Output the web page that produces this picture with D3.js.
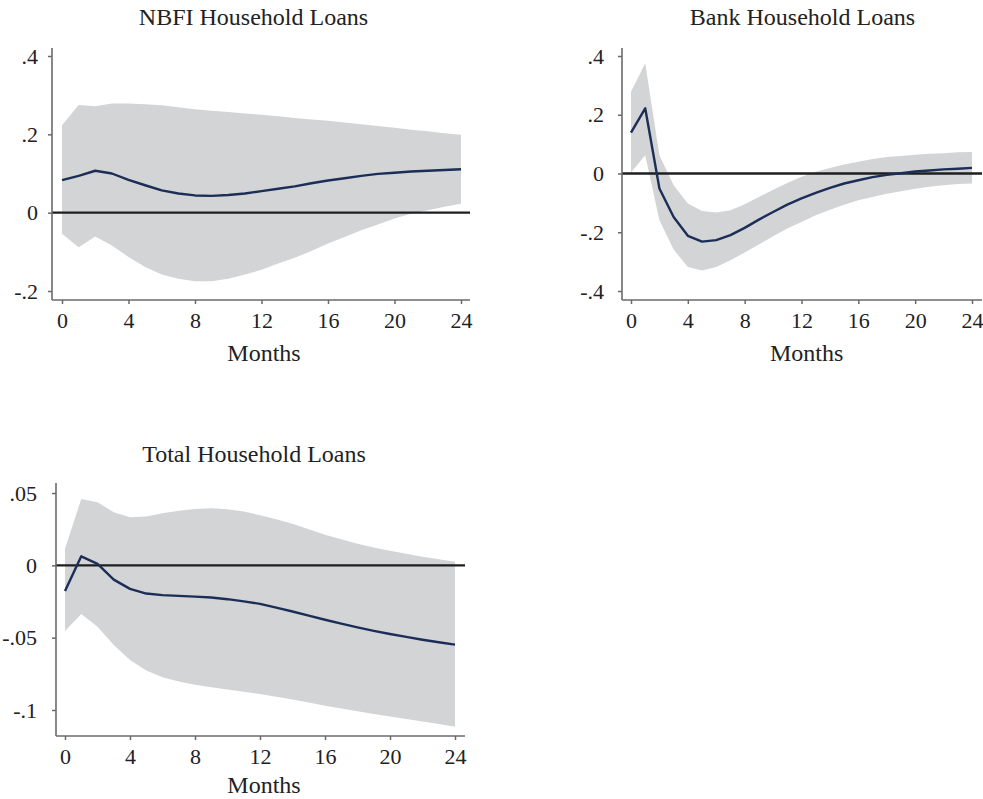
<!DOCTYPE html>
<html><head><meta charset="utf-8">
<script src="https://cdn.jsdelivr.net/npm/d3@7"></script>
<style>
html,body{margin:0;padding:0;background:#fff;}
svg{display:block;}
text{font-family:"Liberation Serif","Times New Roman",serif;fill:#222;}
</style></head>
<body>
<svg id="c" width="983" height="799"></svg>
<script>
const months = d3.range(0, 25);
const xTicks = [0, 4, 8, 12, 16, 20, 24];

// NBFI Household Loans
const nbfiIrf = [0.083,0.094,0.107,0.100,0.084,0.070,0.057,0.049,0.044,0.043,0.045,0.049,0.055,0.061,0.067,0.075,0.082,0.088,0.094,0.099,0.102,0.105,0.107,0.109,0.111];
const nbfiUpper = [0.223,0.275,0.272,0.279,0.279,0.277,0.274,0.269,0.264,0.260,0.257,0.253,0.250,0.246,0.242,0.238,0.235,0.230,0.226,0.221,0.217,0.212,0.208,0.203,0.199];
const nbfiLower = [-0.054,-0.088,-0.061,-0.084,-0.113,-0.139,-0.158,-0.169,-0.175,-0.175,-0.169,-0.158,-0.146,-0.130,-0.115,-0.098,-0.079,-0.062,-0.045,-0.030,-0.015,-0.003,0.006,0.015,0.023];
const nbfiYTicks = [-0.2, 0, 0.2, 0.4];
const nbfiYLabels = ["-.2", "0", ".2", ".4"];

// Bank Household Loans
const bankIrf = [0.139,0.222,-0.051,-0.148,-0.212,-0.232,-0.227,-0.210,-0.185,-0.157,-0.131,-0.106,-0.085,-0.066,-0.049,-0.034,-0.023,-0.0125,-0.0045,0.001,0.007,0.010,0.014,0.016,0.019];
const bankUpper = [0.278,0.375,0.0625,-0.040,-0.102,-0.128,-0.133,-0.125,-0.105,-0.080,-0.055,-0.032,-0.011,0.006,0.019,0.031,0.040,0.049,0.056,0.060,0.064,0.067,0.069,0.072,0.073];
const bankLower = [0.003,0.0625,-0.159,-0.259,-0.318,-0.330,-0.318,-0.295,-0.269,-0.242,-0.214,-0.187,-0.165,-0.142,-0.123,-0.106,-0.091,-0.080,-0.069,-0.060,-0.052,-0.045,-0.040,-0.036,-0.034];
const bankYTicks = [-0.4, -0.2, 0, 0.2, 0.4];
const bankYLabels = ["-.4", "-.2", "0", ".2", ".4"];

// Total Household Loans
const totalIrf = [-0.0177,0.0062,0.0010,-0.0099,-0.0163,-0.0195,-0.0206,-0.0211,-0.0216,-0.0222,-0.0234,-0.0249,-0.0266,-0.0292,-0.0319,-0.0348,-0.0376,-0.0403,-0.0429,-0.0453,-0.0475,-0.0495,-0.0514,-0.0532,-0.0548];
const totalUpper = [0.0115,0.0459,0.0436,0.0367,0.0333,0.0337,0.0360,0.0378,0.0390,0.0394,0.0388,0.0372,0.0346,0.0318,0.0287,0.0250,0.0212,0.0180,0.0150,0.0124,0.0101,0.0080,0.0060,0.0042,0.0025];
const totalLower = [-0.0454,-0.0337,-0.0424,-0.0550,-0.0654,-0.0727,-0.0773,-0.0803,-0.0826,-0.0842,-0.0858,-0.0874,-0.0890,-0.0908,-0.0928,-0.0949,-0.0970,-0.0989,-0.1008,-0.1027,-0.1045,-0.1063,-0.1080,-0.1097,-0.1115];
const totalYTicks = [-0.1, -0.05, 0, 0.05];
const totalYLabels = ["-.1", "-.05", "0", ".05"];

const titles = ["NBFI Household Loans", "Bank Household Loans", "Total Household Loans"];
const xLabel = "Months";

const panels = [
  {title: titles[0], irf: nbfiIrf, up: nbfiUpper, lo: nbfiLower, yt: nbfiYTicks, yl: nbfiYLabels,
   ax: 52, top: 48, bottom: 300, right: 470, x0: 62, x1: 461, yv: [-0.2, 0.4], yp: [291, 56],
   titleX: 253.5, titleY: 25, labX: 264, labY: 361, ylabPad: 10},
  {title: titles[1], irf: bankIrf, up: bankUpper, lo: bankLower, yt: bankYTicks, yl: bankYLabels,
   ax: 622, top: 48, bottom: 300, right: 982, x0: 631, x1: 972, yv: [-0.4, 0.4], yp: [291, 56],
   titleX: 802.5, titleY: 25, labX: 806.7, labY: 361, ylabPad: 14},
  {title: titles[2], irf: totalIrf, up: totalUpper, lo: totalLower, yt: totalYTicks, yl: totalYLabels,
   ax: 56, top: 483, bottom: 736, right: 465, x0: 65, x1: 455, yv: [-0.1, 0.05], yp: [710, 493],
   titleX: 254, titleY: 462, labX: 264, labY: 793, ylabPad: 15}
];

const svg = d3.select("#c");
const bandColor = "#d3d4d6";
const lineColor = "#1b2e57";
const axisColor = "#6a6a6a";

panels.forEach(p => {
  const g = svg.append("g");
  const x = d3.scaleLinear().domain([0, 24]).range([p.x0, p.x1]);
  const y = d3.scaleLinear().domain(p.yv).range(p.yp);

  const area = d3.area().x((d, i) => x(months[i])).y0((d, i) => y(p.lo[i])).y1((d, i) => y(p.up[i]));
  g.append("path").datum(months).attr("d", area).attr("fill", bandColor);

  // zero line
  g.append("line").attr("x1", p.ax).attr("x2", p.right).attr("y1", y(0)).attr("y2", y(0))
    .attr("stroke", "#1e1e1e").attr("stroke-width", 2.4);

  const line = d3.line().x((d, i) => x(months[i])).y((d, i) => y(p.irf[i]));
  g.append("path").datum(months).attr("d", line).attr("fill", "none")
    .attr("stroke", lineColor).attr("stroke-width", 2.4).attr("stroke-linejoin", "round");

  // y axis
  const yAxis = d3.axisLeft(y).tickValues(p.yt).tickSize(4).tickSizeOuter(0)
    .tickPadding(p.ylabPad).tickFormat((d, i) => p.yl[i]);
  const ya = g.append("g").attr("transform", `translate(${p.ax},0)`).call(yAxis);
  ya.select(".domain").remove();
  ya.selectAll(".tick line").attr("stroke", axisColor).attr("stroke-width", 1.5);
  ya.selectAll(".tick text").attr("font-size", 22).attr("font-family", "Liberation Serif").attr("fill", "#222");
  g.append("line").attr("x1", p.ax).attr("x2", p.ax).attr("y1", p.top).attr("y2", p.bottom)
    .attr("stroke", axisColor).attr("stroke-width", 1.6);

  // x axis
  const xAxis = d3.axisBottom(x).tickValues(xTicks).tickSize(4).tickSizeOuter(0)
    .tickPadding(8).tickFormat(d3.format("d"));
  const xa = g.append("g").attr("transform", `translate(0,${p.bottom})`).call(xAxis);
  xa.select(".domain").remove();
  xa.selectAll(".tick line").attr("stroke", axisColor).attr("stroke-width", 1.5);
  xa.selectAll(".tick text").attr("font-size", 22).attr("font-family", "Liberation Serif").attr("fill", "#222");
  g.append("line").attr("x1", p.ax).attr("x2", p.right).attr("y1", p.bottom).attr("y2", p.bottom)
    .attr("stroke", axisColor).attr("stroke-width", 1.6);

  g.append("text").attr("x", p.titleX).attr("y", p.titleY).attr("text-anchor", "middle")
    .attr("font-size", 24).text(p.title);
  g.append("text").attr("x", p.labX).attr("y", p.labY).attr("text-anchor", "middle")
    .attr("font-size", 24).text(xLabel);
});
</script>
</body></html>
